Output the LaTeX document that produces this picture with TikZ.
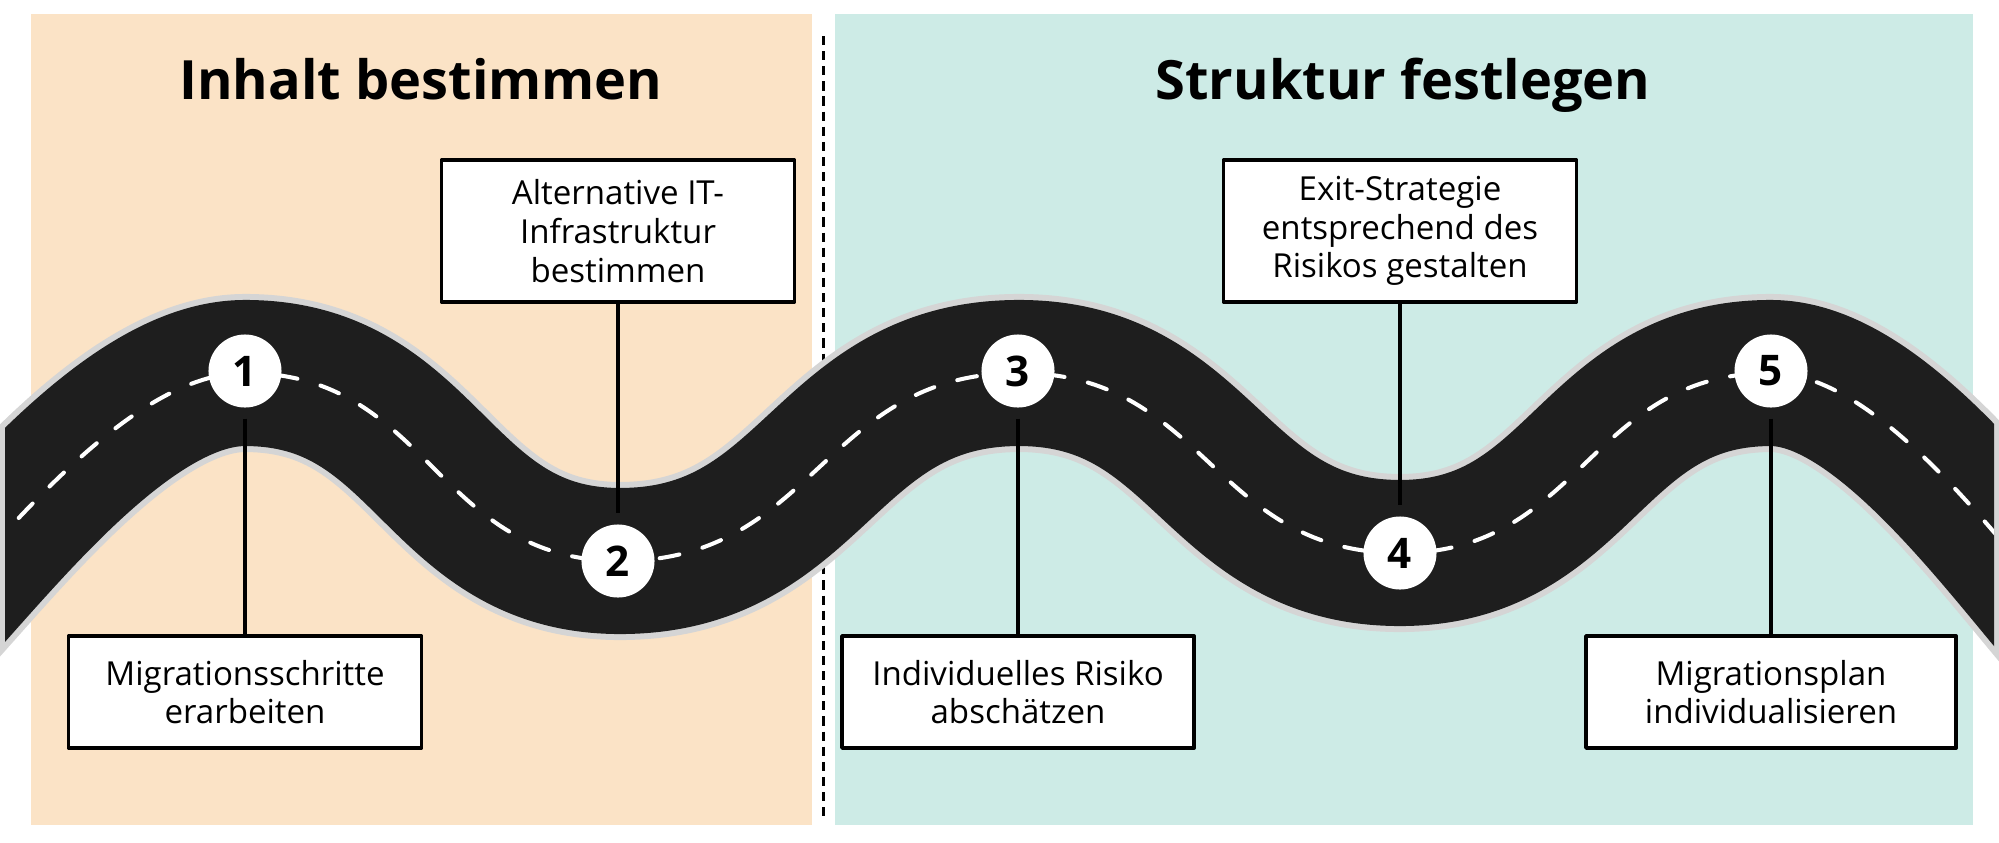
\documentclass[tikz,border=0pt]{standalone}
\usepackage{fontspec}
\setmainfont{Open Sans}
\definecolor{sandbg}{HTML}{FBE3C6}
\definecolor{mintbg}{HTML}{CDEBE6}
\definecolor{asphalt}{HTML}{1E1E1E}
\definecolor{kerb}{HTML}{D5D5D5}
\newcommand{\roadline}{(-100,648) .. controls (-20,568) and (120,373) .. (245,373)
  .. controls (430,373) and (435,561) .. (620,561)
  .. controls (816,561) and (823,373) .. (1019,373)
  .. controls (1206,373) and (1213,553) .. (1400,553)
  .. controls (1582,553) and (1589,373) .. (1771,373)
  .. controls (1887,373) and (2018,568) .. (2092,648)}

\begin{document}
\begin{tikzpicture}[x=0.01cm,y=-0.01cm,line join=round,
  phase/.style={font=\bfseries\fontsize{15.4}{18}\selectfont},
  stepbox/.style={draw=black,line width=1pt,fill=white,align=center,inner sep=0pt,
    font=\fontsize{9.4}{11}\selectfont},
  milestone/.style={circle,fill=white,minimum size=0.73cm,inner sep=0pt,outer sep=0.11cm,
    font=\bfseries\fontsize{12}{13}\selectfont},
  link/.style={line width=1.3pt},
  divider/.style={line width=0.85pt,dash pattern=on 2.6pt off 1.7pt}]
\useasboundingbox (0,0) rectangle (1999,842);
% phases
\fill[sandbg] (31,14) rectangle (812,825);
\fill[mintbg] (835,14) rectangle (1973,825);
\draw[divider] (823,36) -- (823,822);
\node[phase,anchor=base] (t1) at (421,99) {Inhalt bestimmen};
\node[phase,anchor=base] (t2) at (1403,99) {Struktur festlegen};
% road
\begin{scope}
\clip (0,0) rectangle (1999,842);
\draw[kerb,line width=1.58cm] \roadline;
\end{scope}
\begin{scope}
\clip (5,0) rectangle (1994,842);
\draw[asphalt,line width=1.46cm] \roadline;
\draw[white,line width=1.15pt,line cap=round,dash pattern=on 0.2cm off 0.24cm] \roadline;
\end{scope}
% milestones
\node[milestone] (m1) at (245,371) {1};
\node[milestone] (m2) at (618,561) {2};
\node[milestone] (m3) at (1018,371) {3};
\node[milestone] (m4) at (1400,553) {4};
\node[milestone] (m5) at (1771,371) {5};
% steps
\node[stepbox,minimum width=3.53cm,minimum height=1.12cm] (s1) at (245,692) {Migrationsschritte\\erarbeiten};
\node[stepbox,minimum width=3.53cm,minimum height=1.42cm] (s2) at (618,231) {Alternative IT-\\Infrastruktur\\bestimmen};
\node[stepbox,minimum width=3.52cm,minimum height=1.12cm] (s3) at (1018,692) {Individuelles Risiko\\abschätzen};
\node[stepbox,minimum width=3.53cm,minimum height=1.42cm] (s4) at (1400,231) {Exit-Strategie\\entsprechend des\\Risikos gestalten};
\node[stepbox,minimum width=3.70cm,minimum height=1.12cm] (s5) at (1771,692) {Migrationsplan\\individualisieren};
\draw[link] (m1) -- (s1);
\draw[link] (s2) -- (m2);
\draw[link] (m3) -- (s3);
\draw[link] (s4) -- (m4);
\draw[link] (m5) -- (s5);
\end{tikzpicture}
\end{document}
